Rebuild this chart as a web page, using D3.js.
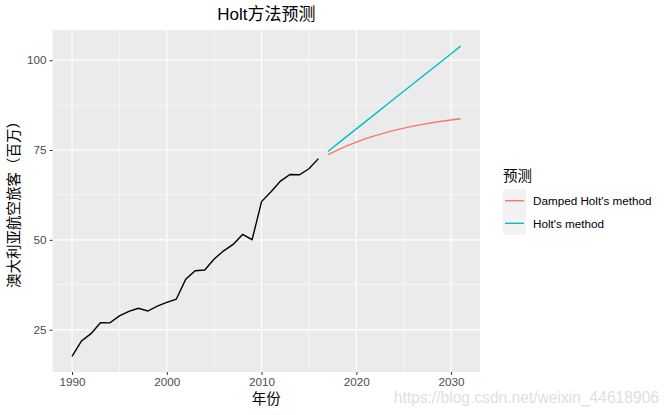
<!DOCTYPE html>
<html><head><meta charset="utf-8">
<script src="https://cdn.jsdelivr.net/npm/d3@7"></script>
<style>body{margin:0;background:#fff}svg{display:block}text{font-family:"Liberation Sans","Noto Sans CJK SC",sans-serif}</style>
</head><body><svg id="c" width="672" height="415"></svg>
<script>
const years = [1990,1991,1992,1993,1994,1995,1996,1997,1998,1999,2000,2001,2002,2003,2004,2005,2006,2007,2008,2009,2010,2011,2012,2013,2014,2015,2016];
const passengers = [17.55,21.86,23.89,26.93,26.89,28.83,30.08,30.95,30.19,31.58,32.58,33.48,39.02,41.39,41.60,44.66,46.95,48.73,51.49,50.03,60.64,63.36,66.36,68.20,68.12,69.78,72.60];
const fcYears = [2017,2018,2019,2020,2021,2022,2023,2024,2025,2026,2027,2028,2029,2030,2031];
const holtValues = [74.60,76.70,78.79,80.88,82.97,85.07,87.16,89.25,91.35,93.44,95.53,97.62,99.72,101.81,103.90];
const dampedValues = [73.70,75.00,76.16,77.21,78.16,79.01,79.77,80.46,81.08,81.64,82.14,82.59,83.00,83.37,83.70];
const seriesNames = ["Damped Holt's method","Holt's method"];
const seriesColors = ["#F8766D","#00BFC4"];
const xTicks = [1990,2000,2010,2020,2030];
const xMinor = [1995,2005,2015,2025];
const yTicks = [25,50,75,100];
const yMinor = [37.5,62.5,87.5];

const svg = d3.select("#c");
const L=52.6, R=480, T=30, B=372;
const x = d3.scaleLinear().domain([1987.95,2033.05]).range([L,R]);
const y = d3.scaleLinear().domain([13.22,108.4]).range([B,T]);

svg.append("rect").attr("x",L).attr("y",T).attr("width",R-L).attr("height",B-T).attr("fill","#EBEBEB");
const g = svg.append("g");
xMinor.forEach(v=>g.append("line").attr("x1",x(v)).attr("x2",x(v)).attr("y1",T).attr("y2",B).attr("stroke","#fff").attr("stroke-width",0.55));
yMinor.forEach(v=>g.append("line").attr("y1",y(v)).attr("y2",y(v)).attr("x1",L).attr("x2",R).attr("stroke","#fff").attr("stroke-width",0.55));
xTicks.forEach(v=>g.append("line").attr("x1",x(v)).attr("x2",x(v)).attr("y1",T).attr("y2",B).attr("stroke","#fff").attr("stroke-width",1.1));
yTicks.forEach(v=>g.append("line").attr("y1",y(v)).attr("y2",y(v)).attr("x1",L).attr("x2",R).attr("stroke","#fff").attr("stroke-width",1.1));

// axes
const xa = svg.append("g").attr("transform",`translate(0,${B})`).call(d3.axisBottom(x).tickValues(xTicks).tickFormat(d3.format("d")).tickSize(3).tickPadding(3));
const ya = svg.append("g").attr("transform",`translate(${L},0)`).call(d3.axisLeft(y).tickValues(yTicks).tickSize(3).tickPadding(3));
[xa,ya].forEach(a=>{a.select(".domain").remove();a.selectAll(".tick line").attr("stroke","#333").attr("stroke-width",1);a.selectAll(".tick text").attr("fill","#4D4D4D").style("font-size","11.7px").style("font-family",'"Liberation Sans",sans-serif');});

const line = d3.line().x(d=>x(d[0])).y(d=>y(d[1]));
svg.append("path").datum(years.map((v,i)=>[v,passengers[i]])).attr("d",line).attr("fill","none").attr("stroke","#000").attr("stroke-width",1.4);
[dampedValues,holtValues].forEach((vals,k)=>{
  svg.append("path").datum(fcYears.map((v,i)=>[v,vals[i]])).attr("d",line).attr("fill","none").attr("stroke",seriesColors[k]).attr("stroke-width",1.4);
});

// titles
svg.append("text").attr("x",(L+R)/2).attr("y",20).attr("text-anchor","middle").style("font-size","17px").attr("fill","#000").text("Holt方法预测");
svg.append("text").attr("x",(L+R)/2).attr("y",404).attr("text-anchor","middle").style("font-size","14.5px").attr("fill","#000").text("年份");
svg.append("text").attr("transform",`translate(19,${(T+B)/2}) rotate(-90)`).attr("text-anchor","middle").style("font-size","14.5px").attr("fill","#000").text("澳大利亚航空旅客（百万）");

// legend
svg.append("text").attr("x",503).attr("y",181).style("font-size","14.5px").attr("fill","#000").text("预测");
seriesNames.forEach((n,i)=>{
  const cy = 200.7 + i*22.6;
  svg.append("rect").attr("x",503).attr("y",cy-11.3).attr("width",23).attr("height",22.6).attr("fill","#F2F2F2");
  svg.append("line").attr("x1",505).attr("x2",524).attr("y1",cy).attr("y2",cy).attr("stroke",seriesColors[i]).attr("stroke-width",1.4);
  svg.append("text").attr("x",533).attr("y",cy+4.2).style("font-size","11.7px").attr("fill","#000").text(n);
});

// watermark
svg.append("text").attr("x",659).attr("y",403).attr("text-anchor","end").style("font-size","15.6px").attr("fill","#E0E0E0").text("https://blog.csdn.net/weixin_44618906");
</script></body></html>
